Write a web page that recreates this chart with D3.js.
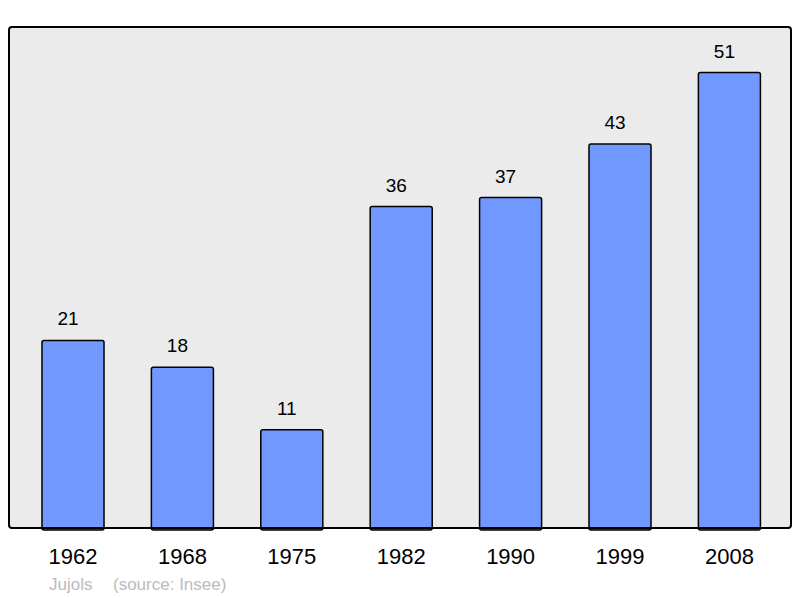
<!DOCTYPE html>
<html>
<head>
<meta charset="utf-8">
<script src="https://cdn.jsdelivr.net/npm/d3@7"></script>
<style>
  body { margin: 0; background: #fff; }
  text { font-family: "Liberation Sans", Arial, sans-serif; }
</style>
</head>
<body>
<div id="chart"></div>
<script>
var years = ["1962", "1968", "1975", "1982", "1990", "1999", "2008"];
var population = [21, 18, 11, 36, 37, 43, 51];
var townName = "Jujols";
var sourceText = "(source: Insee)";

var width = 800, height = 598;
var panel = {left: 9, top: 27, right: 791, bottom: 528};

var data = years.map(function(y, i){ return {year: y, value: population[i]}; });

var svg = d3.select("#chart")
    .append("svg")
    .attr("width", width)
    .attr("height", height);

// background panel
svg.append("rect")
    .attr("x", panel.left)
    .attr("y", panel.top)
    .attr("width", panel.right - panel.left)
    .attr("height", panel.bottom - panel.top)
    .attr("rx", 3)
    .attr("fill", "#ebebeb")
    .attr("stroke", "#000")
    .attr("stroke-width", 2);

var xScale = d3.scaleBand()
    .domain(years)
    .range([18.3, 784.1])
    .paddingInner(0.433)
    .paddingOuter(0.2165);

var yScale = d3.scaleLinear()
    .domain([0, d3.max(population) * 1.1])
    .range([panel.bottom, panel.top]);

svg.selectAll(".bar")
    .data(data)
    .enter()
    .append("rect")
    .attr("class", "bar")
    .attr("x", function(d){ return xScale(d.year); })
    .attr("y", function(d){ return yScale(d.value); })
    .attr("width", xScale.bandwidth())
    .attr("height", function(d){ return yScale(0) - yScale(d.value) + 2; })
    .attr("rx", 2)
    .attr("fill", "#7098ff")
    .attr("stroke", "#000")
    .attr("stroke-width", 1.5);

// redraw bottom edge of panel over bars
svg.append("line")
    .attr("x1", panel.left + 2)
    .attr("x2", panel.right - 2)
    .attr("y1", panel.bottom)
    .attr("y2", panel.bottom)
    .attr("stroke", "#000")
    .attr("stroke-width", 2);

// value labels sit a little left of the bar centre
svg.selectAll(".val")
    .data(data)
    .enter()
    .append("text")
    .attr("class", "val")
    .attr("x", function(d){ return xScale(d.year) + xScale.bandwidth() / 2 - 5; })
    .attr("y", function(d){ return yScale(d.value) - 15; })
    .attr("text-anchor", "middle")
    .attr("font-size", "19px")
    .attr("fill", "#000")
    .text(function(d){ return d.value; });

var xAxis = svg.append("g")
    .attr("transform", "translate(0," + panel.bottom + ")")
    .call(d3.axisBottom(xScale).tickSize(0).tickPadding(0));
xAxis.select(".domain").remove();
xAxis.selectAll("text")
    .attr("y", 36)
    .attr("dy", 0)
    .attr("font-size", "22px")
    .attr("font-family", "Liberation Sans, Arial, sans-serif")
    .attr("fill", "#000");

svg.append("text")
    .attr("x", 49)
    .attr("y", 590)
    .attr("font-size", "17px")
    .attr("fill", "#bbb")
    .text(townName);

svg.append("text")
    .attr("x", 113)
    .attr("y", 590)
    .attr("font-size", "17px")
    .attr("fill", "#bbb")
    .text(sourceText);
</script>
</body>
</html>
